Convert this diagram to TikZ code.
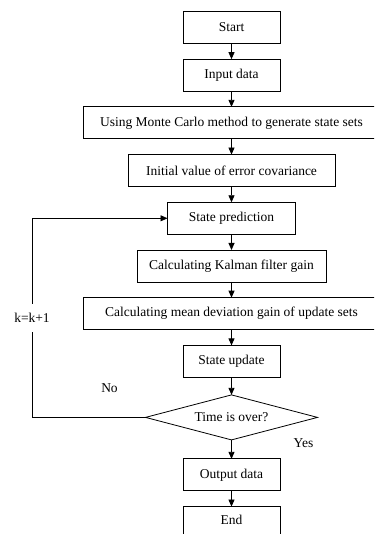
\documentclass[tikz,border=0pt]{standalone}
\usepackage{fontspec}
\setmainfont{Liberation Serif}
\usetikzlibrary{positioning,shapes.geometric,arrows.meta}

\tikzset{
  box/.style={draw, line width=0.8pt, outer sep=0pt, minimum height=32pt, inner sep=2pt, font=\fontsize{13.5}{16}\selectfont},
  shortbox/.style={box, minimum width=97pt},
  decide/.style={diamond, draw, line width=0.8pt, outer sep=0pt, aspect=3.8, minimum width=172pt, minimum height=45pt, inner sep=0pt, font=\fontsize{13.5}{16}\selectfont},
  flow/.style={-{Triangle[length=7pt,width=6pt]}, line width=0.8pt},
  tag/.style={font=\fontsize{13.5}{16}\selectfont, inner sep=1pt}
}

\begin{document}
\begin{tikzpicture}[x=1pt,y=1pt,node distance=15.7pt]
\useasboundingbox (0,0) rectangle (374,534);
\clip (0,0) rectangle (374,534);
\node[shortbox](start) at (231.5,506.5){Start};
\node[shortbox, below=of start](input){Input data};
\node[box, minimum width=297pt, below=of input](montecarlo){Using Monte Carlo method to generate state sets};
\node[box, minimum width=207pt, below=of montecarlo](initcov){Initial value of error covariance};
\node[box, minimum width=128pt, below=of initcov](predict){State prediction};
\node[box, minimum width=189pt, below=of predict](gain){Calculating Kalman filter gain};
\node[box, minimum width=297pt, below=of gain](meandev){Calculating mean deviation gain of update sets};
\node[shortbox, below=of meandev](update){State update};
\node[decide, below=17.5pt of update](timeover){Time is over?};
\node[shortbox, below=19pt of timeover](output){Output data};
\node[shortbox, draw=none, minimum height=27pt, below=of output](stop){End};
\coordinate(loopx) at (32,0);
\coordinate(floor) at (0,0);
\draw[line width=0.8pt](stop.south west |- floor)--(stop.north west)--(stop.north east)--(stop.south east |- floor);
\draw[flow](start)--(input);
\draw[flow](input)--(montecarlo);
\draw[flow](montecarlo)--(initcov);
\draw[flow](initcov)--(predict);
\draw[flow](predict)--(gain);
\draw[flow](gain)--(meandev);
\draw[flow](meandev)--(update);
\draw[flow](update)--(timeover);
\draw[flow](timeover)--(output);
\draw[flow](output)--(stop);
\draw[flow](timeover.west)--(timeover.west -| loopx) |- node[pos=0.25, fill=white, inner xsep=2pt, inner ysep=9pt, font=\fontsize{13.5}{16}\selectfont]{k=k+1} (predict.west);
\node[tag, xshift=-36pt, yshift=29pt](no) at (timeover.west){No};
\node[tag, xshift=72pt, yshift=-3pt](yes) at (timeover.south){Yes};
\end{tikzpicture}
\end{document}
